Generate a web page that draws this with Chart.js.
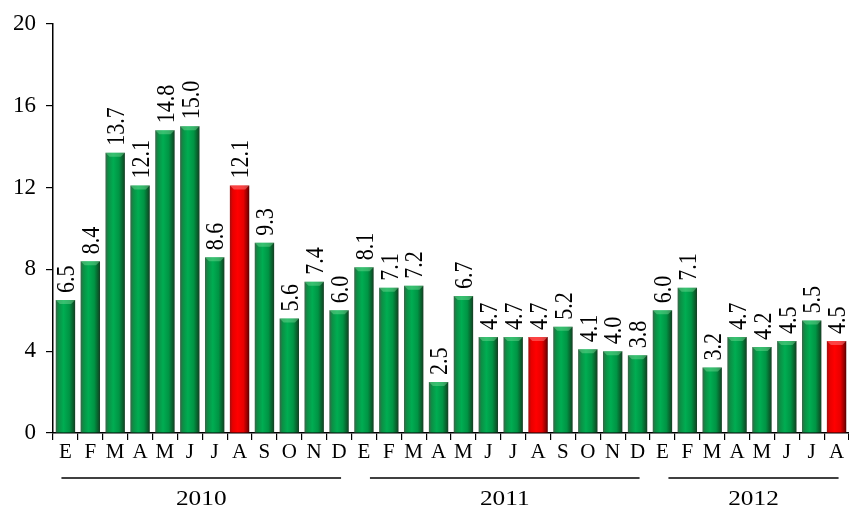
<!DOCTYPE html>
<html>
<head>
<meta charset="utf-8">
<script src="https://cdn.jsdelivr.net/npm/chart.js@4/dist/chart.umd.min.js"></script>
<style>
  html, body { margin: 0; padding: 0; background: #ffffff; }
  #wrap { width: 849px; height: 510px; position: relative; }
</style>
</head>
<body>
<div id="wrap"><canvas id="c"></canvas></div>
<script>
// Month initials (Spanish): Jan 2010 .. Aug 2012
const months = [
  'E','F','M','A','M','J','J','A','S','O','N','D',
  'E','F','M','A','M','J','J','A','S','O','N','D',
  'E','F','M','A','M','J','J','A'
];
const values = [
  6.5, 8.4, 13.7, 12.1, 14.8, 15.0, 8.6, 12.1, 9.3, 5.6, 7.4, 6.0,
  8.1, 7.1, 7.2, 2.5, 6.7, 4.7, 4.7, 4.7, 5.2, 4.1, 4.0, 3.8,
  6.0, 7.1, 3.2, 4.7, 4.2, 4.5, 5.5, 4.5
];
// August of each year is highlighted
const highlighted = [7, 19, 31];
const years = ['2010', '2011', '2012'];
const yearFirst = [0, 12, 24];
const yearLast = [11, 23, 31];
const yTicks = [0, 4, 8, 12, 16, 20];

const SERIF = '"Liberation Serif", "Times New Roman", serif';
const BAR_PCT = 0.78;

function barFill(c) {
  const chart = c.chart;
  const isRed = highlighted.includes(c.dataIndex);
  const xs = chart.scales.x;
  if (!chart.chartArea || !xs) return isRed ? '#ee0000' : '#00a050';
  const cx = xs.getPixelForValue(c.dataIndex);
  const w = (xs.width / months.length) * BAR_PCT;
  const g = chart.ctx.createLinearGradient(cx - w / 2, 0, cx + w / 2, 0);
  if (isRed) {
    g.addColorStop(0, '#a01010');
    g.addColorStop(0.15, '#e80000');
    g.addColorStop(0.4, '#ff0000');
    g.addColorStop(0.7, '#e80000');
    g.addColorStop(0.9, '#900000');
    g.addColorStop(1, '#500000');
  } else {
    g.addColorStop(0, '#3a6448');
    g.addColorStop(0.15, '#0b9045');
    g.addColorStop(0.4, '#00ad52');
    g.addColorStop(0.7, '#009444');
    g.addColorStop(0.9, '#0a5c2b');
    g.addColorStop(1, '#173c24');
  }
  return g;
}

// Lighter bevel on top of each bar + rotated value labels
const barDecor = {
  id: 'barDecor',
  afterDatasetsDraw(chart) {
    const ctx = chart.ctx;
    const meta = chart.getDatasetMeta(0);
    ctx.save();
    meta.data.forEach((bar, i) => {
      const isRed = highlighted.includes(i);
      const half = bar.width / 2;
      const top = bar.y;
      // top chamfer
      ctx.beginPath();
      ctx.moveTo(bar.x - half, top);
      ctx.lineTo(bar.x + half, top);
      ctx.lineTo(bar.x + half - 4, top + 4);
      ctx.lineTo(bar.x - half + 4, top + 4);
      ctx.closePath();
      ctx.fillStyle = isRed ? 'rgba(255,120,120,0.55)' : 'rgba(120,220,150,0.45)';
      ctx.fill();
      // value label, set slightly wide
      ctx.save();
      ctx.translate(bar.x + 1, top - 7);
      ctx.rotate(-Math.PI / 2);
      ctx.scale(1, 1.15);
      ctx.font = '22px ' + SERIF;
      ctx.fillStyle = '#000';
      ctx.textAlign = 'left';
      ctx.textBaseline = 'middle';
      ctx.fillText(values[i].toFixed(1), 0, 1);
      ctx.restore();
    });
    ctx.restore();
  }
};

// Year underlines and captions below the month initials
const yearBands = {
  id: 'yearBands',
  afterDraw(chart) {
    const ctx = chart.ctx;
    const xs = chart.scales.x;
    const lineY = chart.chartArea.bottom + 45;
    ctx.save();
    ctx.strokeStyle = '#000';
    ctx.lineWidth = 1.5;
    ctx.fillStyle = '#000';
    ctx.font = '22px ' + SERIF;
    ctx.textAlign = 'center';
    ctx.textBaseline = 'middle';
    years.forEach((y, k) => {
      const x0 = xs.getPixelForValue(yearFirst[k]) - 4 + (k > 0 ? 10 : 0);
      const x1 = xs.getPixelForValue(yearLast[k]) + 2;
      ctx.beginPath();
      ctx.moveTo(x0, lineY);
      ctx.lineTo(x1, lineY);
      ctx.stroke();
      ctx.save();
      ctx.translate((x0 + x1) / 2, lineY + 21);
      ctx.scale(1.15, 1);
      ctx.fillText(y, 0, 0);
      ctx.restore();
    });
    ctx.restore();
  }
};

new Chart(document.getElementById('c'), {
  type: 'bar',
  data: {
    labels: months,
    datasets: [{
      data: values,
      backgroundColor: barFill,
      borderWidth: 0,
      barPercentage: BAR_PCT,
      categoryPercentage: 1.0
    }]
  },
  options: {
    responsive: true,
    maintainAspectRatio: false,
    animation: false,
    devicePixelRatio: 1,
    layout: { padding: { top: 24, right: 0, bottom: 0, left: 0 } },
    plugins: { legend: { display: false }, tooltip: { enabled: false } },
    scales: {
      x: {
        offset: true,
        grid: {
          display: true,
          offset: true,
          drawOnChartArea: false,
          drawTicks: true,
          tickLength: 7,
          color: '#000',
          lineWidth: 1.2
        },
        border: { display: true, color: '#000', width: 1.5 },
        ticks: {
          color: '#000',
          font: { family: SERIF, size: 21 },
          padding: 0,
          maxRotation: 0,
          autoSkip: false
        },
        afterFit(scale) { scale.height = 77; }
      },
      y: {
        min: 0,
        max: 20,
        afterBuildTicks(scale) { scale.ticks = yTicks.map(v => ({ value: v })); },
        grid: {
          display: true,
          drawOnChartArea: false,
          drawTicks: true,
          tickLength: 7,
          color: '#000',
          lineWidth: 1.2
        },
        border: { display: true, color: '#000', width: 1.5 },
        ticks: {
          color: '#000',
          font: { family: SERIF, size: 23 },
          padding: 10
        },
        afterFit(scale) { scale.width = 53; }
      }
    }
  },
  plugins: [barDecor, yearBands]
});
</script>
</body>
</html>
